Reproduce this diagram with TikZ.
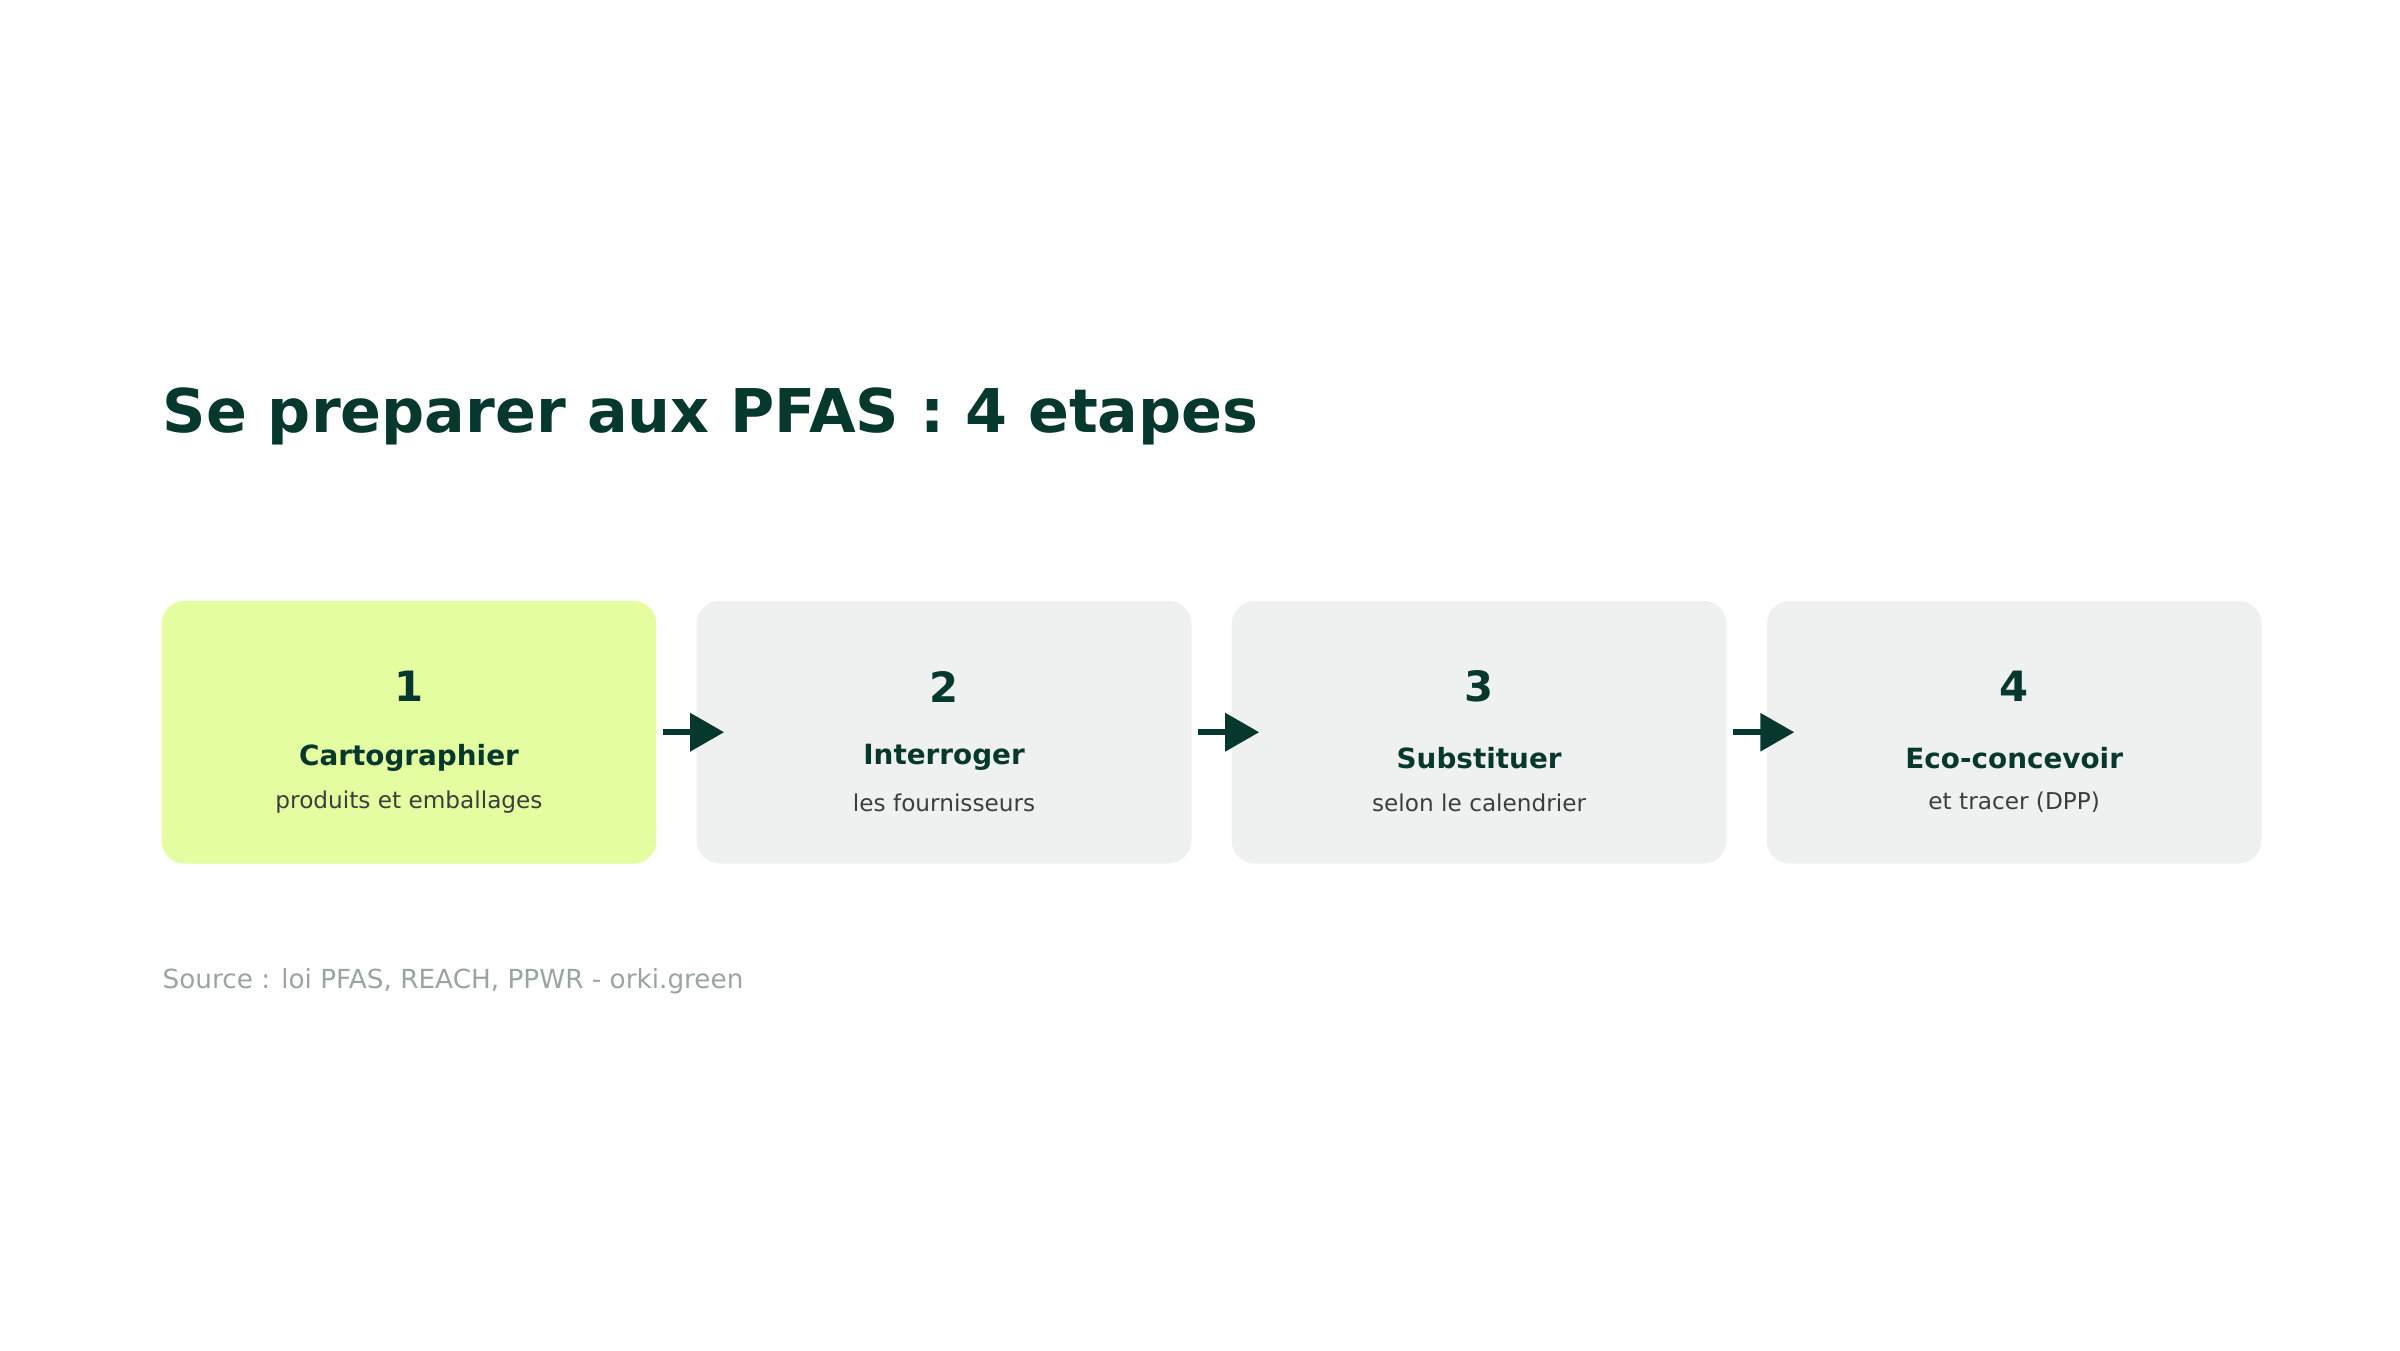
\documentclass[tikz,border=0pt]{standalone}
\usepackage{fontspec}
\usetikzlibrary{arrows.meta}
\setmainfont{DejaVu Sans}
\definecolor{dk}{HTML}{06382D}
\definecolor{lime}{HTML}{E4FDA0}
\definecolor{gr}{HTML}{EFF1F0}
\definecolor{sub}{HTML}{3A3F3D}
\definecolor{src}{HTML}{9AA5A2}
\begin{document}
\begin{tikzpicture}[x=1pt,y=-1pt,
  card/.style={rounded corners=15pt,minimum width=320pt,minimum height=170pt,inner sep=0pt},
  num/.style={font=\fontsize{27}{30}\selectfont\bfseries,text=dk},
  ttl/.style={font=\fontsize{18}{20}\selectfont\bfseries,text=dk},
  sb/.style={font=\fontsize{15}{18}\selectfont,text=sub},
  arr/.style={draw=dk,line width=4pt,-{Triangle[length=22pt,width=24pt]}}]
\useasboundingbox (0,0) rectangle (1552,873);
\node[anchor=base west,font=\fontsize{39}{44}\selectfont\bfseries,text=dk,inner sep=0] (title) at (105,280) {Se preparer aux PFAS : 4 etapes};
\foreach \i/\x/\c/\t/\s in {1/264.5/lime/Cartographier/produits et emballages,2/610.5/gr/Interroger/les fournisseurs,3/956.5/gr/Substituer/selon le calendrier,4/1302.5/gr/Eco-concevoir/et tracer (DPP)}{
  \node[card,fill=\c] (b\i) at (\x,473.5) {};
  \node[num] (n\i) at (\x,444) {\i};
  \node[ttl] (t\i) at (\x,490) {\t};
  \node[sb] (s\i) at (\x,519) {\s};
}
\foreach \a/\b in {1/2,2/3,3/4}{
  \draw[arr] ([xshift=4pt]b\a.east) -- ([xshift=18pt]b\b.west);
}
\node[anchor=base west,font=\fontsize{17}{20}\selectfont,text=src,inner sep=0] (source) at (105,639) {Source : loi PFAS, REACH, PPWR - orki.green};
\end{tikzpicture}
\end{document}
